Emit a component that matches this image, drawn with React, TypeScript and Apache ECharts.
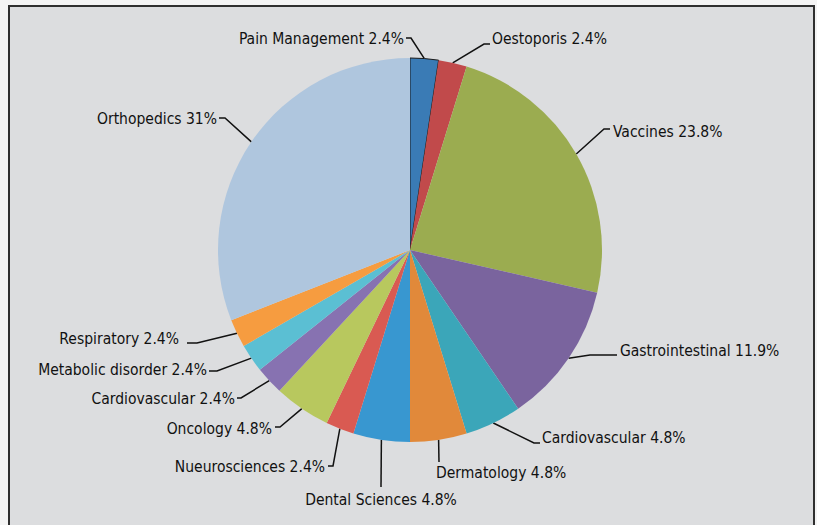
import React, { useEffect, useRef } from "react";
import * as echarts from "echarts";

const categories = [
  "Pain Management",
  "Oestoporis",
  "Vaccines",
  "Gastrointestinal",
  "Cardiovascular",
  "Dermatology",
  "Dental Sciences",
  "Nueurosciences",
  "Oncology",
  "Cardiovascular",
  "Metabolic disorder",
  "Respiratory",
  "Orthopedics",
];
const counts = [1, 1, 10, 5, 2, 2, 2, 1, 2, 1, 1, 1, 13];
const colors = [
  "#3a7bb5", "#c14a4b", "#9bac50", "#7a649e", "#3ba6b9", "#e1893a", "#3897d0",
  "#d95a52", "#b8c85e", "#8772b1", "#5bbfd3", "#f69c40", "#afc6de",
];

// label layout: [labelX, labelY, align, bendX, bendY, endX]
const labelPos: [number, number, string, number, number, number][] = [
  [404, 39, "right", 411, 38, 406],
  [492, 39, "left", 484, 44, 490],
  [613, 132, "left", 604, 129, 610],
  [620, 351, "left", 590, 355, 617],
  [542, 438, "left", 534, 443, 540],
  [436, 473, "left", 439, 462, 439],
  [381, 500, "center", 381, 487, 381],
  [325, 467, "right", 333, 466, 328],
  [272, 429, "right", 280, 427, 275],
  [235, 399, "right", 241, 398, 237],
  [207, 370, "right", 217, 371, 209],
  [179, 339, "right", 197, 343, 187],
  [217, 119, "right", 225, 118, 219],
];

const FONT = "'Liberation Sans Narrow', 'DejaVu Sans Condensed', 'Roboto', sans-serif";

export default function App() {
  const ref = useRef<HTMLDivElement>(null);
  useEffect(() => {
    document.body.style.margin = "0";
    const chart = echarts.init(ref.current!, null, { renderer: "svg" });
    const total = counts.reduce((a, b) => a + b, 0);
    const data = categories.map((name, i) => ({
      name,
      value: counts[i],
      itemStyle:
        i === 0
          ? { color: colors[i], borderColor: "#1a1a1a", borderWidth: 1 }
          : { color: colors[i] },
    }));
    chart.setOption({
      animation: false,
      backgroundColor: "#f4f4f4",
      graphic: [
        {
          type: "rect",
          silent: true,
          z: -10,
          shape: { x: 9, y: 6, width: 805, height: 540 },
          style: { fill: "#dcdddf", stroke: "#2f2f2f", lineWidth: 2 },
        },
      ],
      series: [
        {
          type: "pie",
          center: [410, 250],
          radius: [0, 192],
          startAngle: 90,
          clockwise: true,
          avoidLabelOverlap: false,
          data,
          label: {
            show: true,
            position: "outside",
            color: "#111",
            fontFamily: FONT,
            fontSize: 15.5,
            formatter: (p: any) => {
              const pct = Math.round((p.value / total) * 1000) / 10;
              return `${p.name} ${pct}%`;
            },
          },
          labelLine: {
            show: true,
            lineStyle: { color: "#111", width: 1.5 },
          },
          emphasis: { disabled: true },
          labelLayout: (params: any) => {
            const lp = labelPos[params.dataIndex];
            const edge = params.labelLinePoints ? params.labelLinePoints[0] : [lp[3], lp[4]];
            return {
              x: lp[0],
              y: lp[1],
              align: lp[2],
              verticalAlign: "middle",
              labelLinePoints: [edge, [lp[3], lp[4]], [lp[5], lp[4]]],
            };
          },
        },
      ],
    });
    return () => chart.dispose();
  }, []);
  return <div ref={ref} style={{ width: 817, height: 525 }} />;
}
